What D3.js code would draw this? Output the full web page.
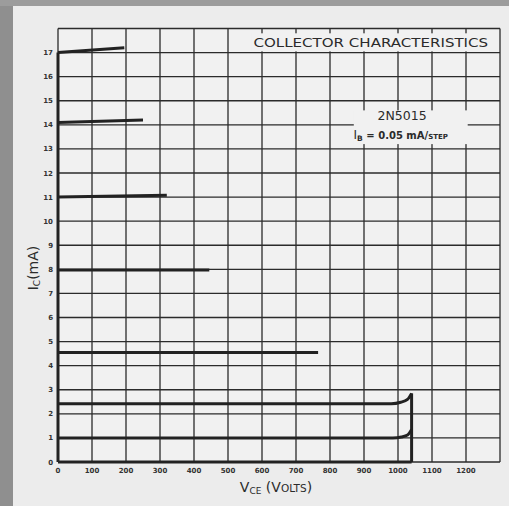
<!DOCTYPE html>
<html><head><meta charset="utf-8">
<script src="https://cdn.jsdelivr.net/npm/d3@7"></script>
<style>
html,body{margin:0;padding:0;background:#ececec;}
svg{display:block;}
</style></head>
<body>
<script>
// ---- data ----
const xTicks = [0,100,200,300,400,500,600,700,800,900,1000,1100,1200];
const yTicks = [0,1,2,3,4,5,6,7,8,9,10,11,12,13,14,15,16,17];
const xGrid = [0,100,200,300,400,500,600,700,800,900,1000,1100,1200,1300];
const yGrid = [0,1,2,3,4,5,6,7,8,9,10,11,12,13,14,15,16,17,18];
const curve1 = [[0,1.0],[985,1.0],[1010,1.04],[1028,1.12],[1040,1.35]];
const curve2 = [[0,2.42],[980,2.42],[1008,2.48],[1028,2.6],[1040,2.85]];
const curve3 = [[0,4.55],[765,4.55]];
const curve4 = [[0,7.97],[445,7.97]];
const curve5 = [[0,11.0],[320,11.08]];
const curve6 = [[0,14.1],[250,14.2]];
const curve7 = [[0,17.0],[195,17.2]];
const breakdown = [[1040,0],[1040,2.85]];
const axisY = [[0,0],[0,17]];
const axisX = [[0,0],[1040,0]];
const curves = [curve1,curve2,curve3,curve4,curve5,curve6,curve7,breakdown,axisY,axisX];

const W=509,H=506;
const svg=d3.select("body").append("svg").attr("width",W).attr("height",H);
// photo border
svg.append("rect").attr("width",W).attr("height",H).attr("fill","#ececec");
svg.append("rect").attr("x",0).attr("y",0).attr("width",13).attr("height",H).attr("fill","#8f8f8f");
svg.append("rect").attr("x",0).attr("y",0).attr("width",W).attr("height",6).attr("fill","#9c9c9c");

const x=d3.scaleLinear().domain([0,1300]).range([58,500]);
const y=d3.scaleLinear().domain([0,18]).range([462,28.5]);
const ink="#2b2b2b";

// plot background
svg.append("rect").attr("x",x(0)).attr("y",y(18)).attr("width",x(1300)-x(0)).attr("height",y(0)-y(18)).attr("fill","#f1f1f1");

// grid
svg.append("g").selectAll("line").data(xGrid).join("line")
  .attr("x1",d=>x(d)).attr("x2",d=>x(d)).attr("y1",y(0)).attr("y2",y(18))
  .attr("stroke",ink).attr("stroke-width",1.3);
svg.append("g").selectAll("line").data(yGrid).join("line")
  .attr("y1",d=>y(d)).attr("y2",d=>y(d)).attr("x1",x(0)).attr("x2",x(1300))
  .attr("stroke",ink).attr("stroke-width",1.3);

// title box (covers grid in top row)
svg.append("rect").attr("x",x(570)).attr("y",y(17.8)).attr("width",x(1295)-x(570)).attr("height",y(17.05)-y(17.8)).attr("fill","#f1f1f1");
svg.append("text").attr("x",x(575)).attr("y",y(17.25)).attr("font-family","'DejaVu Sans',sans-serif")
  .attr("font-size",13).attr("fill",ink).attr("textLength",x(1265)-x(575)).attr("lengthAdjust","spacingAndGlyphs")
  .text("COLLECTOR  CHARACTERISTICS");

// device label box
svg.append("rect").attr("x",x(870)).attr("y",y(14.6)).attr("width",x(1205)-x(870)).attr("height",y(13.2)-y(14.6)).attr("fill","#f1f1f1");
svg.append("text").attr("x",x(1012)).attr("y",y(14.2)).attr("text-anchor","middle")
  .attr("font-family","'DejaVu Sans',sans-serif").attr("font-size",12.5).attr("fill",ink).text("2N5015");
const ib=svg.append("text").attr("x",x(1008)).attr("y",y(13.4)).attr("text-anchor","middle")
  .attr("font-family","'DejaVu Sans',sans-serif").attr("font-size",10).attr("font-weight","bold").attr("fill",ink);
ib.append("tspan").attr("font-size",12).attr("font-weight","normal").text("I");
ib.append("tspan").attr("font-size",7.5).attr("dy",2).text("B");
ib.append("tspan").attr("dy",-2).text(" = 0.05 mA/");
ib.append("tspan").attr("font-size",7).text("STEP");

// curves
const line=d3.line().x(d=>x(d[0])).y(d=>y(d[1])).curve(d3.curveMonotoneX);
svg.append("g").selectAll("path").data(curves).join("path")
  .attr("d",d=>d[0][0]===d[d.length-1][0]? d3.line().x(p=>x(p[0])).y(p=>y(p[1]))(d) : line(d))
  .attr("fill","none").attr("stroke","#222").attr("stroke-width",3).attr("stroke-linecap","butt");

// tick labels
svg.append("g").selectAll("text").data(xTicks).join("text")
  .attr("x",d=>x(d)).attr("y",y(0)+11).attr("text-anchor","middle")
  .attr("font-family","'DejaVu Sans',sans-serif").attr("font-size",7).attr("font-weight","bold").attr("fill","#333")
  .text(d=>d);
svg.append("g").selectAll("text").data(yTicks).join("text")
  .attr("x",x(0)-5).attr("y",d=>y(d)+2.5).attr("text-anchor","end")
  .attr("font-family","'DejaVu Sans',sans-serif").attr("font-size",7).attr("font-weight","bold").attr("fill","#333")
  .text(d=>d);

// axis titles
const xt=svg.append("text").attr("x",276).attr("y",492).attr("text-anchor","middle")
  .attr("font-family","'DejaVu Sans',sans-serif").attr("font-size",14).attr("fill",ink);
xt.append("tspan").text("V");
xt.append("tspan").attr("font-size",9).attr("dy",2).text("CE");
xt.append("tspan").attr("dy",-2).text(" (V");
xt.append("tspan").attr("font-size",10.5).text("OLTS");
xt.append("tspan").text(")");

const yt=svg.append("text").attr("transform","translate(38,268) rotate(-90)").attr("text-anchor","middle")
  .attr("font-family","'DejaVu Sans',sans-serif").attr("font-size",14).attr("fill",ink);
yt.append("tspan").text("I");
yt.append("tspan").attr("font-size",9).attr("dy",2).text("C");
yt.append("tspan").attr("dy",-2).text("(mA)");
</script>
</body></html>
